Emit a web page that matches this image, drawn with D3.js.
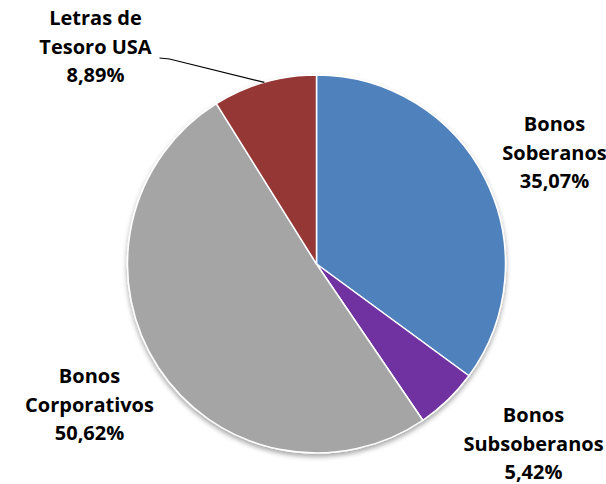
<!DOCTYPE html>
<html lang="es">
<head>
  <meta charset="UTF-8">
  <title>Composición de cartera</title>
  <style>
    body { margin: 0; background: #fff; }
    svg { display: block; font-family: 'Open Sans', sans-serif; }
    .lbl { font-size: 20px; font-weight: bold; fill: #000; }
  </style>
</head>
<body>
<svg id="chart" width="606" height="484"></svg>
<script src="https://cdn.jsdelivr.net/npm/d3@7"></script>
<script>
  // data
  var categories = ["Bonos Soberanos", "Bonos Subsoberanos", "Bonos Corporativos", "Letras de Tesoro USA"];
  var values = [35.07, 5.42, 50.62, 8.89];
  var labelLines = [
    ["Bonos", "Soberanos", "35,07%"],
    ["Bonos", "Subsoberanos", "5,42%"],
    ["Bonos", "Corporativos", "50,62%"],
    ["Letras de", "Tesoro USA", "8,89%"]
  ];
  var colors = ["#4F81BD", "#7030A0", "#A5A5A5", "#953735"];

  // layout
  var W = 606, H = 484;
  var cx = 316.5, cy = 264, R = 189;
  var LINE_H = 28.5;
  // label block centres (first baseline), relative to the pie centre
  var labelAt = [[238, -133], [217, 158], [-227, 119], [-221, -239]];

  var svg = d3.select("#chart");

  var defs = svg.append("defs");
  var f = defs.append("filter").attr("id", "shadow")
    .attr("x", "-10%").attr("y", "-10%").attr("width", "120%").attr("height", "125%");
  f.append("feDropShadow")
    .attr("dx", 0).attr("dy", 3)
    .attr("stdDeviation", 2.5)
    .attr("flood-color", "#000")
    .attr("flood-opacity", 0.35);

  var g = svg.append("g").attr("transform", "translate(" + cx + "," + cy + ")");

  var pie = d3.pie().sort(null).value(function (d) { return d; });
  var arcs = pie(values);

  var arc = d3.arc().innerRadius(0).outerRadius(R);
  var edge = d3.arc().innerRadius(R).outerRadius(R);

  g.append("g").attr("filter", "url(#shadow)")
    .selectAll("path")
    .data(arcs)
    .enter().append("path")
    .attr("d", arc)
    .attr("fill", function (d, i) { return colors[i]; })
    .attr("stroke", "#fff")
    .attr("stroke-width", 1.5)
    .attr("stroke-linejoin", "round");

  // leader line for the small top slice
  var p = edge.centroid(arcs[3]);
  var lx = labelAt[3][0] + 64, ly = labelAt[3][1] + 33;
  g.append("path")
    .attr("d", "M" + lx + "," + ly + "L" + (lx + 10) + "," + (ly + 1) + "L" + p[0] + "," + p[1])
    .attr("fill", "none")
    .attr("stroke", "#000")
    .attr("stroke-width", 1.2);

  var labels = g.selectAll("text.lbl")
    .data(labelLines)
    .enter().append("text")
    .attr("class", "lbl")
    .attr("text-anchor", "middle")
    .attr("transform", function (d, i) {
      return "translate(" + labelAt[i][0] + "," + labelAt[i][1] + ")";
    });

  labels.selectAll("tspan")
    .data(function (d) { return d; })
    .enter().append("tspan")
    .attr("x", 0)
    .attr("y", function (d, j) { return j * LINE_H; })
    .text(function (d) { return d; });
</script>
</body>
</html>
